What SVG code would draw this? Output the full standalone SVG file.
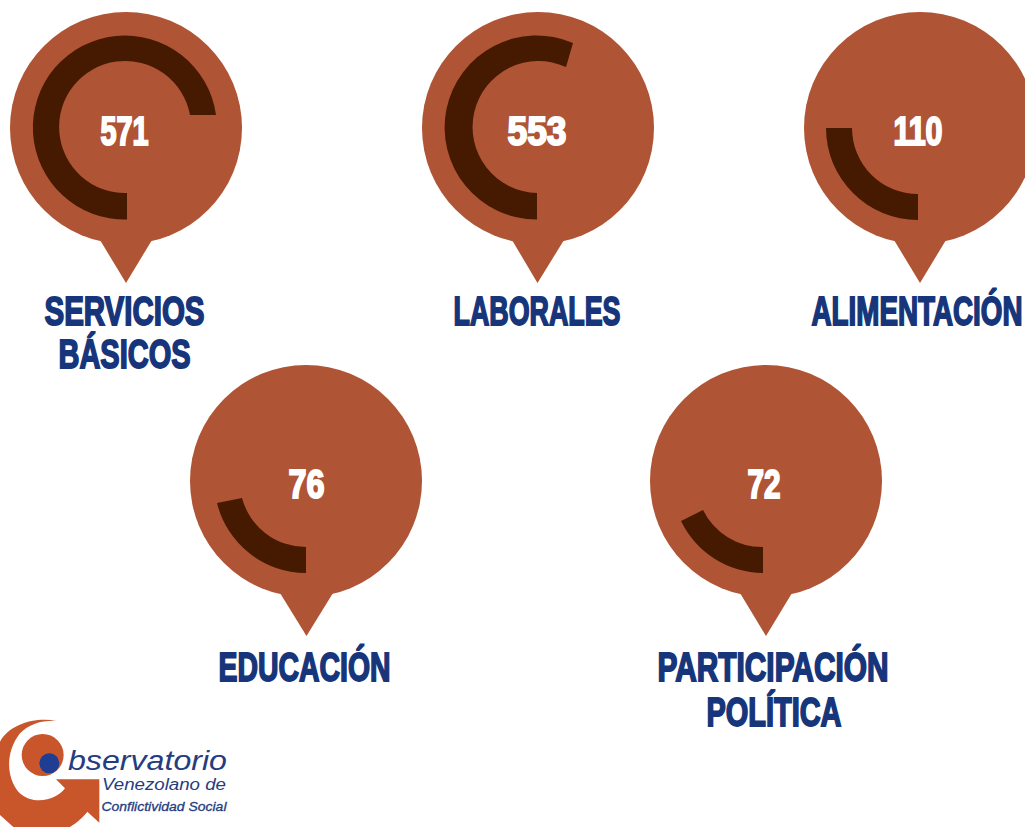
<svg xmlns="http://www.w3.org/2000/svg" width="1025" height="827" viewBox="0 0 1025 827">
<style>
.pin{fill:#AF5434}
.arc{fill:#451A00}
.num{font:bold 40px "Liberation Sans Narrow","Liberation Sans",sans-serif;fill:#fff;stroke:#fff;stroke-width:2;text-anchor:middle}
.lab{font:bold 40px "Liberation Sans Narrow","Liberation Sans",sans-serif;fill:#16357A;stroke:#16357A;stroke-width:1.800;text-anchor:middle}
.lg{fill:#C9552B}
.lt{font-family:"Liberation Sans",sans-serif;font-style:italic;fill:#263C80}
</style>
<rect width="1025" height="827" fill="#fff"/>
<g id="n1"><circle class="pin" cx="126" cy="128" r="116"/><polygon class="pin" points="100,240 152,240 126,283"/><path class="arc" d="M127 219.500A92 92 0 1 1 216 115L190 115A66 66 0 1 0 127 193Z"/><text class="num" x="124.500" y="145" textLength="48" lengthAdjust="spacingAndGlyphs">571</text><text class="lab" x="124.500" y="324.500" textLength="160" lengthAdjust="spacingAndGlyphs">SERVICIOS</text><text class="lab" x="124.500" y="367.500" textLength="132" lengthAdjust="spacingAndGlyphs">BÁSICOS</text></g>
<g id="n2"><circle class="pin" cx="538" cy="128" r="116"/><polygon class="pin" points="512,240 564,240 537.500,283"/><path class="arc" d="M537 219.500A92 92 0 1 1 573 43L566 67A66 66 0 1 0 537 193Z"/><text class="num" x="537" y="145" textLength="59" lengthAdjust="spacingAndGlyphs">553</text><text class="lab" x="537" y="324.500" textLength="167" lengthAdjust="spacingAndGlyphs">LABORALES</text></g>
<g id="n3"><circle class="pin" cx="920" cy="128" r="116"/><polygon class="pin" points="894,240 946,240 920,283"/><path class="arc" d="M826 128A92 92 0 0 0 918 220L918 194A66 66 0 0 1 852 128Z"/><text class="num" x="918" y="145" textLength="49" lengthAdjust="spacingAndGlyphs">110</text><text class="lab" transform="translate(917 324.500) scale(.695 1)">ALIMENTACIÓN</text></g>
<g id="n4"><circle class="pin" cx="306" cy="481" r="116"/><polygon class="pin" points="280,593 333,593 306.500,636"/><path class="arc" d="M217 503A92 92 0 0 0 306 573L306 547A66 66 0 0 1 242 498Z"/><text class="num" x="306.500" y="498" textLength="36" lengthAdjust="spacingAndGlyphs">76</text><text class="lab" x="304.500" y="680.500" textLength="172" lengthAdjust="spacingAndGlyphs">EDUCACIÓN</text></g>
<g id="n5"><circle class="pin" cx="766" cy="481" r="116"/><polygon class="pin" points="740,593 792,593 766,636"/><path class="arc" d="M681 521A92 92 0 0 0 763 573L763 547A66 66 0 0 1 703 510Z"/><text class="num" x="764" y="498" textLength="33" lengthAdjust="spacingAndGlyphs">72</text><text class="lab" x="773" y="681" textLength="231" lengthAdjust="spacingAndGlyphs">PARTICIPACIÓN</text><text class="lab" x="774" y="726" textLength="135" lengthAdjust="spacingAndGlyphs">POLÍTICA</text></g>
<g id="logo">
<g transform="translate(0 700) scale(.3333)">
<path class="lg" d="M172 63C110 50 30 70 0 125L0 345L40 381L210 381C235 365 250 350 262 335L298 368L298 238L168 238L195 265C170 300 100 320 55 275C15 225 20 150 60 100C90 70 130 60 172 63Z"/>
<circle class="lg" cx="128" cy="165" r="63"/>
<circle cx="148" cy="190" r="30" fill="#1F3D92"/>
</g>
<text class="lt" x="68" y="770" font-size="27" textLength="159" lengthAdjust="spacingAndGlyphs">bservatorio</text>
<text class="lt" x="102" y="790" font-size="16" textLength="124" lengthAdjust="spacingAndGlyphs">Venezolano de</text>
<text class="lt" x="101.500" y="811" font-size="13" textLength="125" lengthAdjust="spacingAndGlyphs" stroke="#263C80" stroke-width=".3">Conflictividad Social</text>
</g>
</svg>
